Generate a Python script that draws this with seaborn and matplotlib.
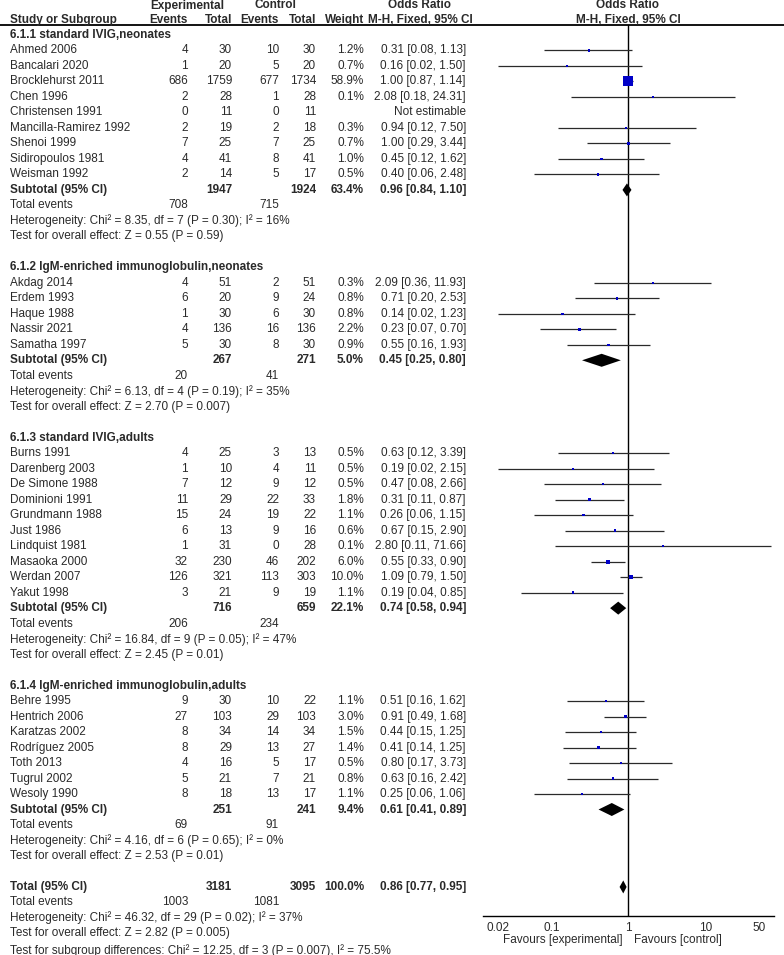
import numpy as np
import pandas as pd
import matplotlib
matplotlib.use("Agg")
import matplotlib.pyplot as plt
import seaborn as sns

# ---------------- data ----------------
group_titles = ["6.1.1 standard IVIG,neonates",
                "6.1.2 IgM-enriched immunoglobulin,neonates",
                "6.1.3 standard IVIG,adults",
                "6.1.4 IgM-enriched immunoglobulin,adults"]

study_names = ["Ahmed 2006", "Bancalari 2020", "Brocklehurst 2011", "Chen 1996", "Christensen 1991",
               "Mancilla-Ramirez 1992", "Shenoi 1999", "Sidiropoulos 1981", "Weisman 1992",
               "Akdag 2014", "Erdem 1993", "Haque 1988", "Nassir 2021", "Samatha 1997",
               "Burns 1991", "Darenberg 2003", "De Simone 1988", "Dominioni 1991", "Grundmann 1988",
               "Just 1986", "Lindquist 1981", "Masaoka 2000", "Werdan 2007", "Yakut 1998",
               "Behre 1995", "Hentrich 2006", "Karatzas 2002", "Rodríguez 2005", "Toth 2013",
               "Tugrul 2002", "Wesoly 1990"]
study_group = [0] * 9 + [1] * 5 + [2] * 10 + [3] * 7
exp_events = [4, 1, 686, 2, 0, 2, 7, 4, 2,
              4, 6, 1, 4, 5,
              4, 1, 7, 11, 15, 6, 1, 32, 126, 3,
              9, 27, 8, 8, 4, 5, 8]
exp_total = [30, 20, 1759, 28, 11, 19, 25, 41, 14,
             51, 20, 30, 136, 30,
             25, 10, 12, 29, 24, 13, 31, 230, 321, 21,
             30, 103, 34, 29, 16, 21, 18]
ctrl_events = [10, 5, 677, 1, 0, 2, 7, 8, 5,
               2, 9, 6, 16, 8,
               3, 4, 9, 22, 19, 9, 0, 46, 113, 9,
               10, 29, 14, 13, 5, 7, 13]
ctrl_total = [30, 20, 1734, 28, 11, 18, 25, 41, 17,
              51, 24, 30, 136, 30,
              13, 11, 12, 33, 22, 16, 28, 202, 303, 19,
              22, 103, 34, 27, 17, 21, 17]
weight_pct = [1.2, 0.7, 58.9, 0.1, np.nan, 0.3, 0.7, 1.0, 0.5,
              0.3, 0.8, 0.8, 2.2, 0.9,
              0.5, 0.5, 0.5, 1.8, 1.1, 0.6, 0.1, 6.0, 10.0, 1.1,
              1.1, 3.0, 1.5, 1.4, 0.5, 0.8, 1.1]
odds_ratio = [0.31, 0.16, 1.00, 2.08, np.nan, 0.94, 1.00, 0.45, 0.40,
              2.09, 0.71, 0.14, 0.23, 0.55,
              0.63, 0.19, 0.47, 0.31, 0.26, 0.67, 2.80, 0.55, 1.09, 0.19,
              0.51, 0.91, 0.44, 0.41, 0.80, 0.63, 0.25]
ci_low = [0.08, 0.02, 0.87, 0.18, np.nan, 0.12, 0.29, 0.12, 0.06,
          0.36, 0.20, 0.02, 0.07, 0.16,
          0.12, 0.02, 0.08, 0.11, 0.06, 0.15, 0.11, 0.33, 0.79, 0.04,
          0.16, 0.49, 0.15, 0.14, 0.17, 0.16, 0.06]
ci_high = [1.13, 1.50, 1.14, 24.31, np.nan, 7.50, 3.44, 1.62, 2.48,
           11.93, 2.53, 1.23, 0.70, 1.93,
           3.39, 2.15, 2.66, 0.87, 1.15, 2.90, 71.66, 0.90, 1.50, 0.85,
           1.62, 1.68, 1.25, 1.25, 3.73, 2.42, 1.06]

sub_exp_total = [1947, 267, 716, 251]
sub_ctrl_total = [1924, 271, 659, 241]
sub_weight = [63.4, 5.0, 22.1, 9.4]
sub_or = [0.96, 0.45, 0.74, 0.61]
sub_low = [0.84, 0.25, 0.58, 0.41]
sub_high = [1.10, 0.80, 0.94, 0.89]
sub_exp_events = [708, 20, 206, 69]
sub_ctrl_events = [715, 41, 234, 91]
sub_chi2 = ["8.35", "6.13", "16.84", "4.16"]
sub_df = [7, 4, 9, 6]
sub_het_p = ["0.30", "0.19", "0.05", "0.65"]
sub_i2 = ["16", "35", "47", "0"]
sub_z = ["0.55", "2.70", "2.45", "2.53"]
sub_z_p = ["0.59", "0.007", "0.01", "0.01"]

tot_exp_total, tot_ctrl_total, tot_weight = 3181, 3095, 100.0
tot_or, tot_low, tot_high = 0.86, 0.77, 0.95
tot_exp_events, tot_ctrl_events = 1003, 1081
tot_chi2, tot_df, tot_het_p, tot_i2 = "46.32", 29, "0.02", "37"
tot_z, tot_z_p = "2.82", "0.005"
subgroup_test = "Test for subgroup differences: Chi² = 12.25, df = 3 (P = 0.007), I² = 75.5%"

tick_values = [0.02, 0.1, 1, 10, 50]
tick_labels = ["0.02", "0.1", "1", "10", "50"]

# ---------------- style ----------------
sns.set_style("white")
plt.rcParams["font.family"] = ["Liberation Sans", "DejaVu Sans"]
FS = 8.5
TXT = "#2a2a2a"

W, H = 784, 955
fig = plt.figure(figsize=(W / 100, H / 100), dpi=100)

# text layer: pixel coordinates
axt = fig.add_axes([0, 0, 1, 1])
axt.set_xlim(0, W)
axt.set_ylim(H, 0)
axt.axis("off")

ROW0, ROWH = 35.0, 15.49
def ry(i):
    return ROW0 + ROWH * i

X_NAME, X_EE, X_ET, X_CE, X_CT, X_W, X_OR = 10, 188, 232, 279, 316, 364, 466
X_OR_C, X_PLOT_C = 420, 628

def t(x, y, s, ha="left", bold=False):
    axt.text(x, y, s, ha=ha, va="center", fontsize=FS, color=TXT,
             fontweight="bold" if bold else "normal")

# headers
for x, s in [(187, "Experimental"), (275, "Control"), (X_OR_C, "Odds Ratio"), (X_PLOT_C, "Odds Ratio")]:
    t(x, 5.5, s, ha="center", bold=True)
t(X_NAME, 20, "Study or Subgroup", bold=True)
for x, s in [(X_EE, "Events"), (X_ET, "Total"), (X_CE, "Events"), (X_CT, "Total"), (X_W, "Weight")]:
    t(x, 20, s, ha="right", bold=True)
t(X_OR_C, 20, "M-H, Fixed, 95% CI", ha="center", bold=True)
t(X_PLOT_C, 20, "M-H, Fixed, 95% CI", ha="center", bold=True)
axt.plot([0, W], [25.5, 25.5], color="black", lw=1.3, solid_capstyle="butt")

def fmt_ci(o, l, h):
    return f"{o:.2f} [{l:.2f}, {h:.2f}]"

study_rows = []
sub_rows = []
row = 0
for g, title in enumerate(group_titles):
    t(X_NAME, ry(row), title, bold=True)
    row += 1
    for k in range(len(study_names)):
        if study_group[k] != g:
            continue
        y = ry(row)
        t(X_NAME, y, study_names[k])
        t(X_EE, y, str(exp_events[k]), ha="right")
        t(X_ET, y, str(exp_total[k]), ha="right")
        t(X_CE, y, str(ctrl_events[k]), ha="right")
        t(X_CT, y, str(ctrl_total[k]), ha="right")
        if np.isnan(odds_ratio[k]):
            t(X_OR, y, "Not estimable", ha="right")
        else:
            t(X_W, y, f"{weight_pct[k]:.1f}%", ha="right")
            t(X_OR, y, fmt_ci(odds_ratio[k], ci_low[k], ci_high[k]), ha="right")
            study_rows.append(dict(y=y, OR=odds_ratio[k], lo=ci_low[k], hi=ci_high[k], w=weight_pct[k]))
        row += 1
    y = ry(row)
    t(X_NAME, y, "Subtotal (95% CI)", bold=True)
    t(X_ET, y, str(sub_exp_total[g]), ha="right", bold=True)
    t(X_CT, y, str(sub_ctrl_total[g]), ha="right", bold=True)
    t(X_W, y, f"{sub_weight[g]:.1f}%", ha="right", bold=True)
    t(X_OR, y, fmt_ci(sub_or[g], sub_low[g], sub_high[g]), ha="right", bold=True)
    sub_rows.append(dict(y=y, OR=sub_or[g], lo=sub_low[g], hi=sub_high[g]))
    row += 1
    y = ry(row)
    t(X_NAME, y, "Total events")
    t(X_EE, y, str(sub_exp_events[g]), ha="right")
    t(X_CE, y, str(sub_ctrl_events[g]), ha="right")
    row += 1
    t(X_NAME, ry(row), f"Heterogeneity: Chi² = {sub_chi2[g]}, df = {sub_df[g]} (P = {sub_het_p[g]}); I² = {sub_i2[g]}%")
    row += 1
    t(X_NAME, ry(row), f"Test for overall effect: Z = {sub_z[g]} (P = {sub_z_p[g]})")
    row += 2

y = ry(row)
t(X_NAME, y, "Total (95% CI)", bold=True)
t(X_ET, y, str(tot_exp_total), ha="right", bold=True)
t(X_CT, y, str(tot_ctrl_total), ha="right", bold=True)
t(X_W, y, f"{tot_weight:.1f}%", ha="right", bold=True)
t(X_OR, y, fmt_ci(tot_or, tot_low, tot_high), ha="right", bold=True)
sub_rows.append(dict(y=y, OR=tot_or, lo=tot_low, hi=tot_high))
row += 1
y = ry(row)
t(X_NAME, y, "Total events")
t(X_EE, y, str(tot_exp_events), ha="right")
t(X_CE, y, str(tot_ctrl_events), ha="right")
row += 1
t(X_NAME, ry(row), f"Heterogeneity: Chi² = {tot_chi2}, df = {tot_df} (P = {tot_het_p}); I² = {tot_i2}%")
row += 1
t(X_NAME, ry(row), f"Test for overall effect: Z = {tot_z} (P = {tot_z_p})")
row += 1
t(X_NAME, ry(row) + 1.5, subgroup_test)

# ---------------- forest panel ----------------
PX_L, PX_R, PX_TOP, PX_AX = 483.3, 774.3, 25.5, 916.0
axf = fig.add_axes([PX_L / W, 1 - PX_AX / H, (PX_R - PX_L) / W, (PX_AX - PX_TOP) / H])
axf.set_xscale("log")
axf.set_xlim(10 ** -1.886, 10 ** 1.899)
axf.set_ylim(PX_AX, PX_TOP)
axf.patch.set_alpha(0)

sdf = pd.DataFrame(study_rows)
gdf = pd.DataFrame(sub_rows)

axf.hlines(sdf["y"], sdf["lo"], sdf["hi"], color="#2a2a2a", lw=0.9, zorder=2)
sns.scatterplot(data=sdf, x="OR", y="y", size="w", sizes=(2.5, 52), size_norm=(0, 58.9),
                marker="s", color="#0000c8", linewidth=0, legend=False, ax=axf, zorder=3)
for _, r in gdf.iterrows():
    hh = 0.42 * ROWH
    axf.fill([r["lo"], r["OR"], r["hi"], r["OR"]], [r["y"], r["y"] - hh, r["y"], r["y"] + hh],
             color="black", lw=0, zorder=3)
axf.axvline(1, color="black", lw=1.0, zorder=1)

for s in ["top", "right", "left"]:
    axf.spines[s].set_visible(False)
axf.spines["bottom"].set_color("black")
axf.spines["bottom"].set_linewidth(1.0)
axf.set_xticks(tick_values)
axf.set_xticklabels(tick_labels)
axf.xaxis.set_minor_locator(matplotlib.ticker.NullLocator())
axf.set_yticks([])
axf.tick_params(axis="x", direction="inout", length=6, width=1, labelsize=FS,
                labelcolor=TXT, color="black", pad=1.5)
axf.set_xlabel("")
axf.set_ylabel("")

t(623, 940, "Favours [experimental]", ha="right")
t(634, 940, "Favours [control]", ha="left")

fig.savefig("out.png", dpi=100)
